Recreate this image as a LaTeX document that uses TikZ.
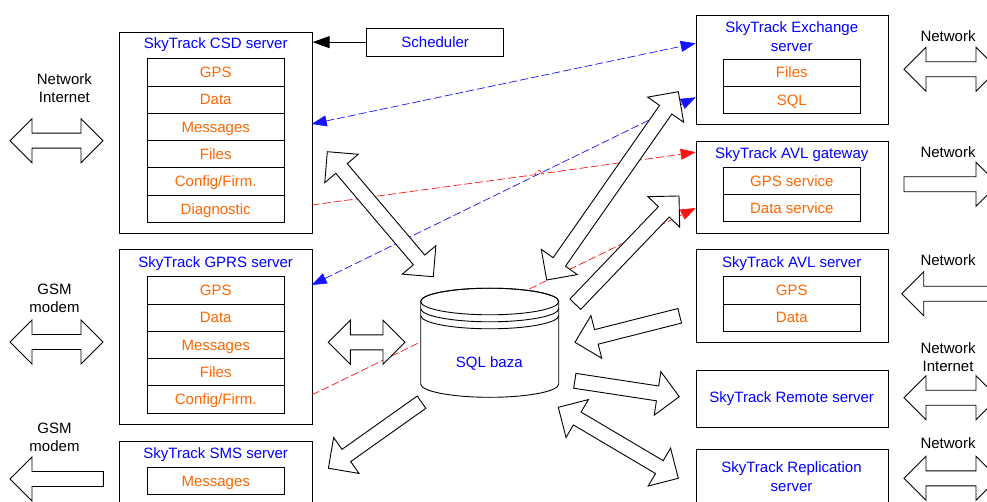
\documentclass[tikz,border=0pt]{standalone}
\usepackage{fontspec}
\setmainfont{Liberation Sans}
\usetikzlibrary{arrows.meta}
\definecolor{skyblue}{RGB}{0,0,255}
\definecolor{skyorange}{RGB}{255,102,0}
\definecolor{dashblue}{RGB}{20,20,255}
\definecolor{dashred}{RGB}{255,20,20}
\def\blkHeadLen{22}
\def\blkShaft{7.5pt}
\def\blkHead{22pt}
\newcommand\blkvec[2]{%
  \path (#1); \pgfgetlastxy{\blkAx}{\blkAy}%
  \path (#2); \pgfgetlastxy{\blkBx}{\blkBy}%
  \pgfmathsetmacro\blkAng{atan2(\blkBy-\blkAy,\blkBx-\blkAx)}%
  \pgfmathsetmacro\blkLen{veclen(\blkBx-\blkAx,\blkBy-\blkAy)}%
  \pgfmathsetmacro\blkHb{\blkLen-\blkHeadLen}%
}
\newcommand\singleblk[2]{%
  \blkvec{#1}{#2}%
  \draw[blockarrow, shift={(#1)}, rotate=\blkAng]
    (0pt,-\blkShaft) -- (\blkHb pt,-\blkShaft) -- (\blkHb pt,-\blkHead) -- (\blkLen pt,0pt)
    -- (\blkHb pt,\blkHead) -- (\blkHb pt,\blkShaft) -- (0pt,\blkShaft) -- cycle;
}
\newcommand\doubleblk[2]{%
  \blkvec{#1}{#2}%
  \draw[blockarrow, shift={(#1)}, rotate=\blkAng]
    (0pt,0pt) -- (\blkHeadLen pt,-\blkHead) -- (\blkHeadLen pt,-\blkShaft)
    -- (\blkHb pt,-\blkShaft) -- (\blkHb pt,-\blkHead) -- (\blkLen pt,0pt)
    -- (\blkHb pt,\blkHead) -- (\blkHb pt,\blkShaft) -- (\blkHeadLen pt,\blkShaft)
    -- (\blkHeadLen pt,\blkHead) -- cycle;
}
\begin{document}
\begin{tikzpicture}[x=1pt,y=-1pt,
  font=\fontsize{15}{18}\selectfont,
  box/.style={draw, line width=0.9pt, inner sep=0pt, anchor=north west},
  row/.style={draw, line width=0.9pt, minimum width=137.3pt, minimum height=27.3pt,
    inner sep=0pt, text height=10.7pt, text depth=0pt, text=skyorange},
  title/.style={inner sep=0pt, text height=10.7pt, text depth=0pt, text=skyblue},
  mtitle/.style={inner sep=0pt, align=center, anchor=north, text=skyblue,
    font=\fontsize{15}{19}\selectfont},
  lbl/.style={inner sep=0pt, align=center, anchor=north, text=black},
  blockarrow/.style={draw, fill=white, line width=0.9pt, line join=miter},
  link/.style={line width=0.7pt, dash pattern=on 8pt off 3pt},
  tip/.style={-{Triangle[length=15pt,width=11pt]}},
  tips/.style={{Triangle[length=15pt,width=11pt]}-{Triangle[length=15pt,width=11pt]}}
]
\useasboundingbox (0,0) rectangle (987,502);
\clip (0,0) rectangle (987,502);

% ---------- left column servers ----------
\node[box, minimum width=192.4pt, minimum height=201.6pt] (csd) at (119.3,31.7) {};
\node[title] (csdT) at (215.7,43) {SkyTrack CSD server};
\node[row] (csd1) at (215.7,72.35) {GPS};
\node[row] (csd2) at (215.7,99.65) {Data};
\node[row] (csd3) at (215.7,126.95) {Messages};
\node[row] (csd4) at (215.7,154.25) {Files};
\node[row] (csd5) at (215.7,181.55) {Config/Firm.};
\node[row] (csd6) at (215.7,208.85) {Diagnostic};

\node[box, minimum width=192.4pt, minimum height=174.7pt] (gprs) at (119.3,249.3) {};
\node[title] (gprsT) at (215.7,261.7) {SkyTrack GPRS server};
\node[row] (gprs1) at (215.7,290.35) {GPS};
\node[row] (gprs2) at (215.7,317.65) {Data};
\node[row] (gprs3) at (215.7,344.95) {Messages};
\node[row] (gprs4) at (215.7,372.25) {Files};
\node[row] (gprs5) at (215.7,399.55) {Config/Firm.};

\node[box, minimum width=192.4pt, minimum height=90pt] (sms) at (119.3,441) {};
\node[title] (smsT) at (215.7,452.7) {SkyTrack SMS server};
\node[row, minimum height=27pt] (sms1) at (215.7,480.8) {Messages};

% ---------- scheduler ----------
\node[draw, line width=0.9pt, minimum width=137pt, minimum height=27.7pt, inner sep=0pt,
  text height=10.7pt, text depth=0pt, text=skyblue] (sched) at (435.2,42.15) {Scheduler};

% ---------- right column servers ----------
\node[box, minimum width=192pt, minimum height=109pt] (exch) at (695.7,15) {};
\node[mtitle] (exchT) at (791.7,21.3) {SkyTrack Exchange\\server};
\node[row, minimum width=137pt] (exch1) at (791.8,72.65) {Files};
\node[row, minimum width=137pt] (exch2) at (791.8,99.95) {SQL};

\node[box, minimum width=192pt, minimum height=92.6pt] (gate) at (695.7,140.7) {};
\node[title] (gateT) at (791.7,152.7) {SkyTrack AVL gateway};
\node[row, minimum width=137pt] (gate1) at (791.8,180.95) {GPS service};
\node[row, minimum width=137pt] (gate2) at (791.8,208.25) {Data service};

\node[box, minimum width=192pt, minimum height=92.4pt] (avl) at (695.7,249.3) {};
\node[title] (avlT) at (791.7,262.3) {SkyTrack AVL server};
\node[row, minimum width=137pt] (avl1) at (791.8,290.35) {GPS};
\node[row, minimum width=137pt] (avl2) at (791.8,317.65) {Data};

\node[box, minimum width=192pt, minimum height=56.7pt] (remote) at (695.7,370) {};
\node[title] (remoteT) at (791.7,396.7) {SkyTrack Remote server};

\node[box, minimum width=192pt, minimum height=90pt] (repl) at (695.7,449) {};
\node[mtitle] (replT) at (791.5,461.9) {SkyTrack Replication\\server};

% ---------- labels ----------
\node[lbl] (lNet) at (64.4,73.6) {Network\\Internet};
\node[lbl] (lGsm1) at (54.5,283.6) {GSM\\modem};
\node[lbl] (lGsm2) at (54.5,422.9) {GSM\\modem};
\node[lbl] (rNet1) at (948,30.6) {Network};
\node[lbl] (rNet2) at (948,146.3) {Network};
\node[lbl] (rNet3) at (948,254.6) {Network};
\node[lbl] (rNet4) at (948,342.9) {Network\\Internet};
\node[lbl] (rNet5) at (948,437.3) {Network};

% ---------- connectors ----------
\draw[line width=0.9pt, -{Triangle[length=17pt,width=12pt]}] (sched.west) -- (sched.west -| csd.east);

\coordinate (b1a) at (311.7,124);   \coordinate (b1b) at (695.7,43.3);
\coordinate (b2a) at (311.7,285);   \coordinate (b2b) at (695.7,97.3);
\coordinate (r1a) at (311.7,205);   \coordinate (r1b) at (695.7,152.2);
\coordinate (r2a) at (311.7,395);   \coordinate (r2b) at (695.7,208);
\coordinate (j1) at (535.4,174.6);  \coordinate (j2) at (541.4,173.8);
\draw[link, dashblue, tips] (b1a) -- (b1b);
\draw[link, dashblue, tips] (b2a) -- (b2b);
\draw[link, dashred, tip] (r1a) -- (j1) .. controls (535.2,169.5) and (541.2,168.7) .. (j2) -- (r1b);
\draw[link, dashred, tip] (r2a) -- (r2b);

% ---------- database ----------
\draw[line width=0.9pt, fill=white] (420.7,301.5) -- (420.7,384)
  arc[start angle=180, end angle=360, x radius=69pt, y radius=13.3pt]
  -- (558.7,301.5)
  arc[start angle=0, end angle=180, x radius=69pt, y radius=13.3pt] -- cycle;
\draw[line width=0.9pt] (489.7,301.5) ellipse [x radius=69pt, y radius=13.3pt];
\draw[line width=0.9pt] (420.7,308.5) arc[start angle=180, end angle=360, x radius=69pt, y radius=13.3pt];
\draw[line width=0.9pt] (420.7,315.5) arc[start angle=180, end angle=360, x radius=69pt, y radius=13.3pt];
\node[title] (sql) at (489.3,361.7) {SQL baza};

% ---------- block arrows ----------
\coordinate (aA1) at (327.3,151.7); \coordinate (aA2) at (433.3,276.7);
\coordinate (aB1) at (546.7,280);   \coordinate (aB2) at (678.3,91.7);
\coordinate (aC1) at (575.3,304.2); \coordinate (aC2) at (679,196);
\coordinate (aD1) at (679.7,315.8); \coordinate (aD2) at (575,342.3);
\coordinate (aE1) at (574.8,380.8); \coordinate (aE2) at (679.3,396.7);
\coordinate (aF1) at (558.3,407.3); \coordinate (aF2) at (678.3,478.3);
\coordinate (aG1) at (421.5,402.2); \coordinate (aG2) at (328.3,468.3);
\coordinate (aH1) at (328.3,342.3); \coordinate (aH2) at (405,342.3);
\doubleblk{aA1}{aA2}
\doubleblk{aB1}{aB2}
\singleblk{aC1}{aC2}
\singleblk{aD1}{aD2}
\singleblk{aE1}{aE2}
\doubleblk{aF1}{aF2}
\singleblk{aG1}{aG2}
\doubleblk{aH1}{aH2}

% left side
\coordinate (l1a) at (10,140.7);  \coordinate (l1b) at (103,140.7);
\coordinate (l2a) at (10,342);    \coordinate (l2b) at (103,342);
\coordinate (l3a) at (103.3,479); \coordinate (l3b) at (10,479);
\doubleblk{l1a}{l1b}
\doubleblk{l2a}{l2b}
\singleblk{l3a}{l3b}

% right side
\coordinate (r1s) at (904,69.3);   \coordinate (r1e) at (998,69.3);
\coordinate (r2s) at (904,184.3);  \coordinate (r2e) at (998,184.3);
\coordinate (r3s) at (1010,293.8); \coordinate (r3e) at (901.7,293.8);
\coordinate (r4s) at (904,397.7);  \coordinate (r4e) at (998,397.7);
\coordinate (r5s) at (904,478.3);  \coordinate (r5e) at (998,478.3);
\doubleblk{r1s}{r1e}
\singleblk{r2s}{r2e}
\singleblk{r3s}{r3e}
\doubleblk{r4s}{r4e}
\doubleblk{r5s}{r5e}
\end{tikzpicture}
\end{document}
